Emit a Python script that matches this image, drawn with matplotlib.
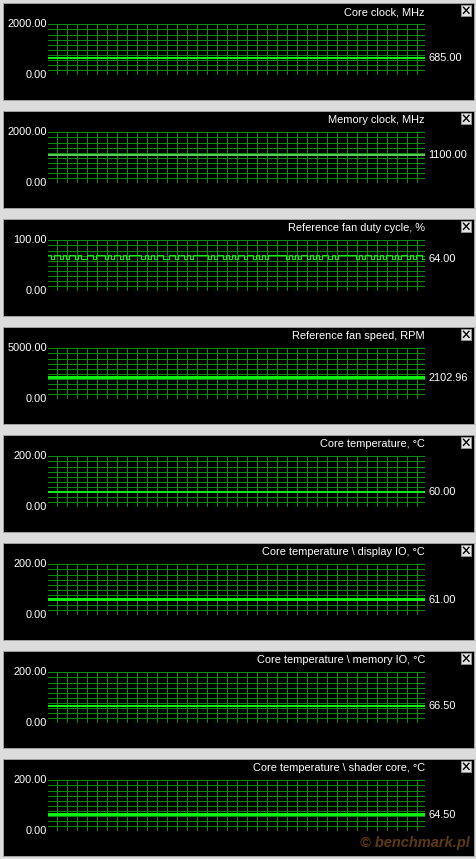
import numpy as np
import matplotlib
matplotlib.use("Agg")
import matplotlib.pyplot as plt
from matplotlib.patches import Rectangle
from matplotlib.lines import Line2D
import matplotlib.transforms as mtransforms

# panel titles, scale tops, current readings
titles = ["Core clock, MHz", "Memory clock, MHz", "Reference fan duty cycle, %",
          "Reference fan speed, RPM", "Core temperature, \u00b0C",
          "Core temperature \\ display IO, \u00b0C", "Core temperature \\ memory IO, \u00b0C",
          "Core temperature \\ shader core, \u00b0C"]
ymax = [2000.0, 2000.0, 100.0, 5000.0, 200.0, 200.0, 200.0, 200.0]
current = ["685.00", "1100.00", "64.00", "2102.96", "60.00", "61.00", "66.50", "64.50"]

core_clock = [685, 685, 685, 685, 685, 685, 685, 685, 685, 685, 685, 685, 685, 685, 685, 685, 685, 685, 685,
              685, 685, 685, 685, 685, 685, 685, 685, 685, 685, 685, 685, 685, 685, 685, 685, 685, 685, 685,
              685, 685, 685, 685, 685, 685, 685, 685, 685, 685, 685, 685, 685, 685, 685, 685, 685, 685, 685,
              685, 685, 685, 685, 685, 685, 685, 685, 685, 685, 685, 685, 685, 685, 685, 685, 685, 685, 685]
mem_clock = [1100, 1100, 1100, 1100, 1100, 1100, 1100, 1100, 1100, 1100, 1100, 1100, 1100, 1100, 1100, 1100, 1100, 1100, 1100,
             1100, 1100, 1100, 1100, 1100, 1100, 1100, 1100, 1100, 1100, 1100, 1100, 1100, 1100, 1100, 1100, 1100, 1100, 1100,
             1100, 1100, 1100, 1100, 1100, 1100, 1100, 1100, 1100, 1100, 1100, 1100, 1100, 1100, 1100, 1100, 1100, 1100, 1100,
             1100, 1100, 1100, 1100, 1100, 1100, 1100, 1100, 1100, 1100, 1100, 1100, 1100, 1100, 1100, 1100, 1100, 1100, 1100]
fan_duty = [72, 64, 72, 72, 64, 72, 64, 72, 72, 64, 72, 64, 64, 72, 72, 64, 72, 72, 72, 64, 72,
            64, 72, 72, 64, 72, 64, 72, 72, 72, 72, 64, 72, 64, 72, 64, 72, 72, 64, 64, 72, 72,
            64, 72, 72, 64, 72, 64, 72, 72, 72, 72, 72, 64, 72, 64, 72, 72, 64, 72, 64, 72, 64,
            72, 72, 64, 72, 72, 64, 72, 64, 72, 64, 72, 72, 72, 72, 72, 72, 64, 72, 64, 72, 64,
            72, 72, 64, 72, 64, 72, 64, 72, 72, 64, 72, 64, 72, 72, 72, 72, 72, 72, 64, 72, 64,
            72, 72, 64, 72, 64, 72, 64, 72, 72, 64, 72, 64, 72, 72, 64, 72, 64, 72, 72, 64, 64]
fan_rpm = [2103, 2103, 2103, 2103, 2103, 2103, 2103, 2103, 2103, 2103, 2103, 2103, 2103, 2103, 2103, 2103, 2103, 2103, 2103,
           2103, 2103, 2103, 2103, 2103, 2103, 2103, 2103, 2103, 2103, 2103, 2103, 2103, 2103, 2103, 2103, 2103, 2103, 2103,
           2103, 2103, 2103, 2103, 2103, 2103, 2103, 2103, 2103, 2103, 2103, 2103, 2103, 2103, 2103, 2103, 2103, 2103, 2103,
           2103, 2180, 2103, 2103, 2103, 2180, 2180, 2103, 2103, 2103, 2103, 2103, 2103, 2103, 2103, 2103, 2103, 2103, 2103]
core_temp = [60, 60, 60, 60, 60, 60, 60, 60, 60, 60, 60, 60, 60, 60, 60, 60, 60, 60, 60,
             60, 60, 60, 60, 60, 60, 60, 60, 60, 60, 60, 60, 60, 60, 60, 60, 60, 60, 60,
             60, 60, 60, 60, 60, 60, 60, 60, 60, 60, 60, 60, 60, 60, 60, 60, 60, 60, 60,
             60, 60, 60, 60, 60, 60, 60, 60, 60, 60, 60, 60, 60, 60, 60, 60, 60, 60, 60]
display_io = [61, 61, 61, 61, 61, 61, 61, 61, 61, 61, 61, 61, 61, 61, 61, 61, 63, 61, 61,
              61, 61, 61, 61, 61, 61, 61, 61, 61, 61, 61, 61, 61, 61, 61, 61, 61, 61, 61,
              61, 61, 61, 61, 61, 61, 61, 61, 61, 61, 61, 61, 61, 61, 61, 61, 61, 61, 61,
              61, 61, 61, 61, 61, 61, 61, 61, 61, 63, 61, 61, 61, 61, 61, 61, 61, 61, 61]
memory_io = [66.5, 66.5, 66.5, 66.5, 66.5, 66.5, 66.5, 66.5, 66.5, 66.5, 66.5, 66.5, 66.5, 66.5, 66.5, 66.5, 66.5, 66.5, 66.5,
             66.5, 66.5, 66.5, 66.5, 66.5, 66.5, 66.5, 66.5, 66.5, 66.5, 66.5, 66.5, 66.5, 66.5, 66.5, 66.5, 66.5, 66.5, 66.5,
             66.5, 66.5, 66.5, 66.5, 66.5, 66.5, 66.5, 66.5, 66.5, 66.5, 66.5, 66.5, 66.5, 66.5, 66.5, 66.5, 66.5, 66.5, 66.5,
             66.5, 66.5, 66.5, 66.5, 66.5, 66.5, 66.5, 66.5, 66.5, 66.5, 66.5, 66.5, 66.5, 66.5, 66.5, 66.5, 66.5, 66.5, 66.5]
shader_core = [64.5, 64.5, 64.5, 64.5, 64.5, 66.5, 64.5, 64.5, 66.5, 64.5, 64.5, 64.5, 64.5, 64.5, 64.5, 64.5, 64.5, 64.5, 64.5,
               64.5, 64.5, 64.5, 64.5, 64.5, 64.5, 64.5, 66.5, 64.5, 66.5, 64.5, 64.5, 64.5, 66.5, 64.5, 64.5, 64.5, 64.5, 66.5,
               64.5, 64.5, 66.5, 64.5, 66.5, 64.5, 66.5, 66.5, 64.5, 64.5, 66.5, 66.5, 64.5, 66.5, 64.5, 66.5, 64.5, 64.5, 66.5,
               64.5, 64.5, 64.5, 64.5, 66.5, 64.5, 66.5, 64.5, 66.5, 66.5, 66.5, 64.5, 64.5, 66.5, 66.5, 66.5, 64.5, 64.5, 64.5]

series = [core_clock, mem_clock, fan_duty, fan_rpm, core_temp, display_io, memory_io, shader_core]
line_cols = ["#10f010", "#58c858", "#10f010", "#10f010", "#10f010", "#10f010", "#10f010", "#10f010"]

W, H = 477, 859
fig = plt.figure(figsize=(W / 100, H / 100), dpi=100, facecolor="#dcdcdc")
plt.rcParams['font.family'] = ['Liberation Sans', 'DejaVu Sans']
fs = 7.9
grid_col = "#0a8c0a"
px = 0.72  # one pixel in points

def fx(x):
    return x / W

def fy(y):
    return 1 - y / H

for i in range(8):
    top = 3.3 + 108 * i
    # black panel
    fig.patches.append(Rectangle((fx(3), fy(top + 97)), fx(471), 97 / H, transform=fig.transFigure,
                                 facecolor="black", edgecolor="#a0a0a0", lw=px, zorder=-3))
    # close button
    fig.patches.append(Rectangle((fx(461), fy(top + 13)), fx(10.5), 11.5 / H, transform=fig.transFigure,
                                 facecolor="#e4e4e4", edgecolor="#909090", lw=px, zorder=-2))
    for ya, yb in [(4, 10), (10, 4)]:
        fig.lines.append(Line2D([fx(463.5), fx(469)], [fy(top + ya), fy(top + yb)], transform=fig.transFigure,
                                color="black", lw=1.4 * px, zorder=-1))
    fig.text(fx(425), fy(top + 9), titles[i], ha="right", va="center", color="white", fontsize=fs)

    ax = fig.add_axes([fx(48), fy(top + 72), fx(377), 51 / H])
    ax.set_zorder(5)
    ax.set_facecolor("none")
    for s in ax.spines.values():
        s.set_visible(False)
    ax.set_xticks([])
    ax.set_yticks([])
    vals = series[i]
    n = len(vals)
    ax.set_xlim(0, n - 1)
    ax.set_ylim(0, ymax[i])
    for k in range(11):
        ax.axhline(ymax[i] * k / 10, color=grid_col, lw=px, zorder=1, antialiased=False)
    for k in range(37):
        ax.axvline((9 + 10 * k) / 377 * (n - 1), color=grid_col, lw=px, zorder=1, antialiased=False)
    if i == 2:
        ax.plot(np.arange(n), vals, color=line_cols[i], lw=1.0 * px, drawstyle="steps-post", zorder=3)
    else:
        ax.plot(np.arange(n), vals, color=line_cols[i], lw=2 * px, zorder=3, antialiased=False)

    ax.text(-0.003, 1, "%.2f" % ymax[i], transform=ax.transAxes, ha="right", va="center",
            color="white", fontsize=fs, clip_on=False)
    ax.text(-0.003, 0, "0.00", transform=ax.transAxes, ha="right", va="center",
            color="white", fontsize=fs, clip_on=False)
    trans = mtransforms.blended_transform_factory(ax.transAxes, ax.transData)
    ax.text(1.008, float(current[i]), current[i], transform=trans, ha="left", va="center",
            color="white", fontsize=fs, clip_on=False)

fig.text(fx(470), fy(843), "\u00a9 benchmark.pl", ha="right", va="center", color="#5e3a14",
         fontsize=10.5, fontweight="bold", fontstyle="italic")

fig.savefig("out.png", dpi=100, facecolor=fig.get_facecolor())
